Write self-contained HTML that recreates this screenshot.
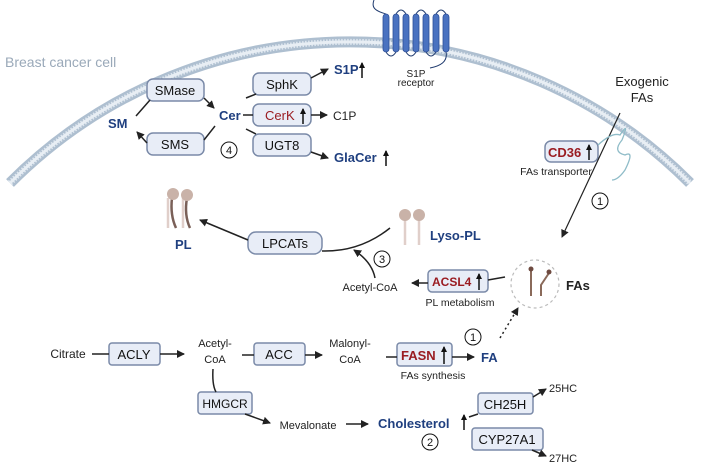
<!DOCTYPE html><html><head><style>body{margin:0;background:#fff}svg{display:block}text{font-family:"Liberation Sans",sans-serif}</style></head><body>
<svg width="704" height="467" viewBox="0 0 704 467" xmlns="http://www.w3.org/2000/svg">
<defs>
<marker id="a" markerWidth="8" markerHeight="8" refX="7" refY="4" orient="auto" markerUnits="userSpaceOnUse"><path d="M0,0 L8,4 L0,8 Z" fill="#222"/></marker>
<marker id="u" markerWidth="6" markerHeight="6" refX="5" refY="3" orient="auto" markerUnits="userSpaceOnUse"><path d="M0,0 L6,3 L0,6 Z" fill="#111"/></marker>
</defs>
<!-- membrane -->
<path d="M10,183 A480,480 0 0 1 690,183" fill="none" stroke="#aebfd0" stroke-width="11"/>
<path d="M10,183 A480,480 0 0 1 690,183" fill="none" stroke="#dfe7ef" stroke-width="6" stroke-dasharray="1.5,1.5"/>
<path d="M10,183 A480,480 0 0 1 690,183" fill="none" stroke="#e8eef4" stroke-width="3"/>
<text x="5" y="67" font-size="14" fill="#9aa9b9">Breast cancer cell</text>
<!-- S1P receptor -->
<g stroke="#1f3a6e" stroke-width="1" fill="none">
<path d="M374,0 C370,10 380,12 386,14 M386,52 Q391,60 396,52 M396,14 Q401,6 406,14 M406,52 Q411,60 416,52 M416,14 Q421,6 426,14 M426,52 Q431,60 436,52 M436,14 Q441,6 446,14 M446,52 C448,62 440,66 430,68"/>
</g>
<g fill="#4a72c0" stroke="#2e4f96" stroke-width="0.8">
<rect x="383" y="14" width="6" height="38" rx="3"/><rect x="393" y="14" width="6" height="38" rx="3"/><rect x="403" y="14" width="6" height="38" rx="3"/><rect x="413" y="14" width="6" height="38" rx="3"/><rect x="423" y="14" width="6" height="38" rx="3"/><rect x="433" y="14" width="6" height="38" rx="3"/><rect x="443" y="14" width="6" height="38" rx="3"/>
</g>
<text x="416" y="77" font-size="10" text-anchor="middle" fill="#222">S1P</text>
<text x="416" y="86" font-size="10" text-anchor="middle" fill="#222">receptor</text>
<!-- boxes -->
<g fill="#e8edf7" stroke="#7a8aa8" stroke-width="1.5">
<rect x="147" y="79" width="57" height="22" rx="6"/>
<rect x="147" y="133" width="57" height="22" rx="6"/>
<rect x="253" y="73" width="58" height="22" rx="6"/>
<rect x="253" y="104" width="58" height="22" rx="6"/>
<rect x="253" y="134" width="58" height="22" rx="6"/>
<rect x="545" y="141" width="53" height="21" rx="6"/>
<rect x="248" y="232" width="74" height="22" rx="8"/>
<rect x="428" y="270" width="60" height="22" rx="4"/>
<rect x="109" y="343" width="51" height="22" rx="3"/>
<rect x="254" y="343" width="51" height="22" rx="3"/>
<rect x="397" y="343" width="55" height="23" rx="3"/>
<rect x="198" y="392" width="54" height="22" rx="3"/>
<rect x="478" y="393" width="55" height="21" rx="3"/>
<rect x="472" y="428" width="71" height="22" rx="3"/>
</g>
<g font-size="13" fill="#111" text-anchor="middle">
<text x="175" y="95">SMase</text><text x="175" y="149">SMS</text>
<text x="282" y="89">SphK</text><text x="282" y="150">UGT8</text>
<text x="285" y="248">LPCATs</text>
<text x="134" y="359">ACLY</text><text x="279" y="359">ACC</text>
<text x="225" y="408" font-size="12">HMGCR</text>
<text x="505" y="409">CH25H</text><text x="507" y="444">CYP27A1</text>
</g>
<text x="265" y="120" font-size="13" fill="#9a1c22">CerK</text>
<text x="548" y="157" font-size="13" font-weight="bold" fill="#9a1c22">CD36</text>
<text x="432" y="286" font-size="12" font-weight="bold" fill="#9a1c22">ACSL4</text>
<text x="401" y="360" font-size="13" font-weight="bold" fill="#9a1c22">FASN</text>
<!-- blue labels -->
<g font-weight="bold" fill="#1f3f7f" font-size="13">
<text x="108" y="128">SM</text><text x="219" y="120">Cer</text>
<text x="334" y="74">S1P</text><text x="334" y="162">GlaCer</text>
<text x="175" y="249">PL</text><text x="430" y="240">Lyso-PL</text>
<text x="481" y="362">FA</text><text x="378" y="428">Cholesterol</text>
</g>
<!-- up arrows -->
<g stroke="#111" stroke-width="1.5" marker-end="url(#u)">
<path d="M303,124 L303,109"/><path d="M589,160 L589,145"/><path d="M479,290 L479,274"/><path d="M444,364 L444,347"/>
<path d="M362,78 L362,63"/><path d="M386,166 L386,151"/><path d="M464,430 L464,415"/>
</g>
<text x="566" y="290" font-size="13" font-weight="bold" fill="#222">FAs</text>
<g font-size="12" fill="#222">
<text x="333" y="120">C1P</text>
<text x="642" y="86" text-anchor="middle" font-size="13">Exogenic</text>
<text x="642" y="102" text-anchor="middle" font-size="13">FAs</text>
<text x="556" y="175" text-anchor="middle" font-size="10.5">FAs transporter</text>
<text x="460" y="306" text-anchor="middle" font-size="10.5">PL metabolism</text>
<text x="370" y="291" text-anchor="middle" font-size="11">Acetyl-CoA</text>
<text x="433" y="379" text-anchor="middle" font-size="10.5">FAs synthesis</text>
<text x="68" y="358" text-anchor="middle">Citrate</text>
<text x="215" y="347" text-anchor="middle" font-size="11">Acetyl-</text>
<text x="215" y="363" text-anchor="middle" font-size="11">CoA</text>
<text x="350" y="347" text-anchor="middle" font-size="11">Malonyl-</text>
<text x="350" y="363" text-anchor="middle" font-size="11">CoA</text>
<text x="308" y="429" text-anchor="middle" font-size="11">Mevalonate</text>
<text x="549" y="392" font-size="11">25HC</text><text x="549" y="462" font-size="11">27HC</text>
</g>
<!-- number circles -->
<g fill="none" stroke="#111" stroke-width="1"><circle cx="229" cy="150" r="8"/><circle cx="600" cy="201" r="8"/><circle cx="382" cy="259" r="8"/><circle cx="473" cy="337" r="8"/><circle cx="430" cy="442" r="8"/></g>
<g font-size="11" fill="#111" text-anchor="middle"><text x="229" y="154">4</text><text x="600" y="205">1</text><text x="382" y="263">3</text><text x="473" y="341">1</text><text x="430" y="446">2</text></g>
<!-- connectors -->
<g stroke="#222" stroke-width="1.5" fill="none">
<path d="M136,116 L150,100"/><path d="M204,98 L214,108" marker-end="url(#a)"/>
<path d="M215,126 L204,140"/><path d="M147,143 L137,132" marker-end="url(#a)"/>
<path d="M246,98 L256,94"/><path d="M311,78 L328,69" marker-end="url(#a)"/>
<path d="M243,115 L253,115"/><path d="M311,115 L327,115" marker-end="url(#a)"/>
<path d="M246,129 L256,134"/><path d="M311,152 L328,158" marker-end="url(#a)"/>
<path d="M620,113 L562,237" stroke-width="1.2" marker-end="url(#a)"/>
<path d="M248,240 L200,220" marker-end="url(#a)"/>
<path d="M322,251 Q360,252 390,228"/>
<path d="M375,278 Q372,262 354,250" marker-end="url(#a)"/>
<path d="M428,283 L412,283" marker-end="url(#a)"/>
<path d="M488,280 L505,277"/>
<path d="M500,338 L518,308" stroke-dasharray="2,3" marker-end="url(#a)"/>
<path d="M92,354 L109,354"/><path d="M160,354 L184,354" marker-end="url(#a)"/>
<path d="M242,355 L254,355"/><path d="M305,355 L322,355" marker-end="url(#a)"/>
<path d="M386,357 L397,357"/><path d="M452,357 L474,357" marker-end="url(#a)"/>
<path d="M213,369 Q212,385 216,392"/><path d="M245,414 L270,423" marker-end="url(#a)"/>
<path d="M346,424 L368,424" marker-end="url(#a)"/>
<path d="M469,417 L478,414"/><path d="M533,397 L546,389" marker-end="url(#a)"/>
<path d="M532,450 L546,456" marker-end="url(#a)"/>
</g>
<!-- CD36 squiggle -->
<path d="M598,145 Q612,132 620,135 Q630,120 622,140 Q612,152 625,155 Q635,150 625,170 Q618,180 612,180" fill="none" stroke="#8fbcc8" stroke-width="1.3"/>
<!-- FAs circle -->
<circle cx="535" cy="284" r="24" fill="none" stroke="#bbb" stroke-width="1.2" stroke-dasharray="3,3"/>
<path d="M531,270 L531,296" stroke="#8a6a5a" stroke-width="2"/><circle cx="531" cy="269" r="2.5" fill="#6e4a40"/>
<path d="M549,273 L541,285 L541,296" stroke="#8a6a5a" stroke-width="2" fill="none"/><circle cx="549" cy="272" r="2.5" fill="#6e4a40"/>
<!-- PL icon -->
<g stroke-width="2.5" fill="none"><path d="M168,198 L168,228" stroke="#e0cfca"/><path d="M183,198 L183,228" stroke="#e0cfca"/><path d="M172,198 Q170,215 176,228" stroke="#7a6058"/><path d="M187,198 Q184,215 190,228" stroke="#7a6058"/></g>
<circle cx="173" cy="194" r="6" fill="#c9b2a8"/><circle cx="187" cy="195" r="6" fill="#c9b2a8"/>
<!-- Lyso-PL icon -->
<g stroke-width="2.5"><path d="M405,220 L405,245" stroke="#e0cfca"/><path d="M419,220 L419,245" stroke="#e0cfca"/></g>
<circle cx="405" cy="215" r="6" fill="#c9b2a8"/><circle cx="419" cy="215" r="6" fill="#c9b2a8"/>
</svg></body></html>
